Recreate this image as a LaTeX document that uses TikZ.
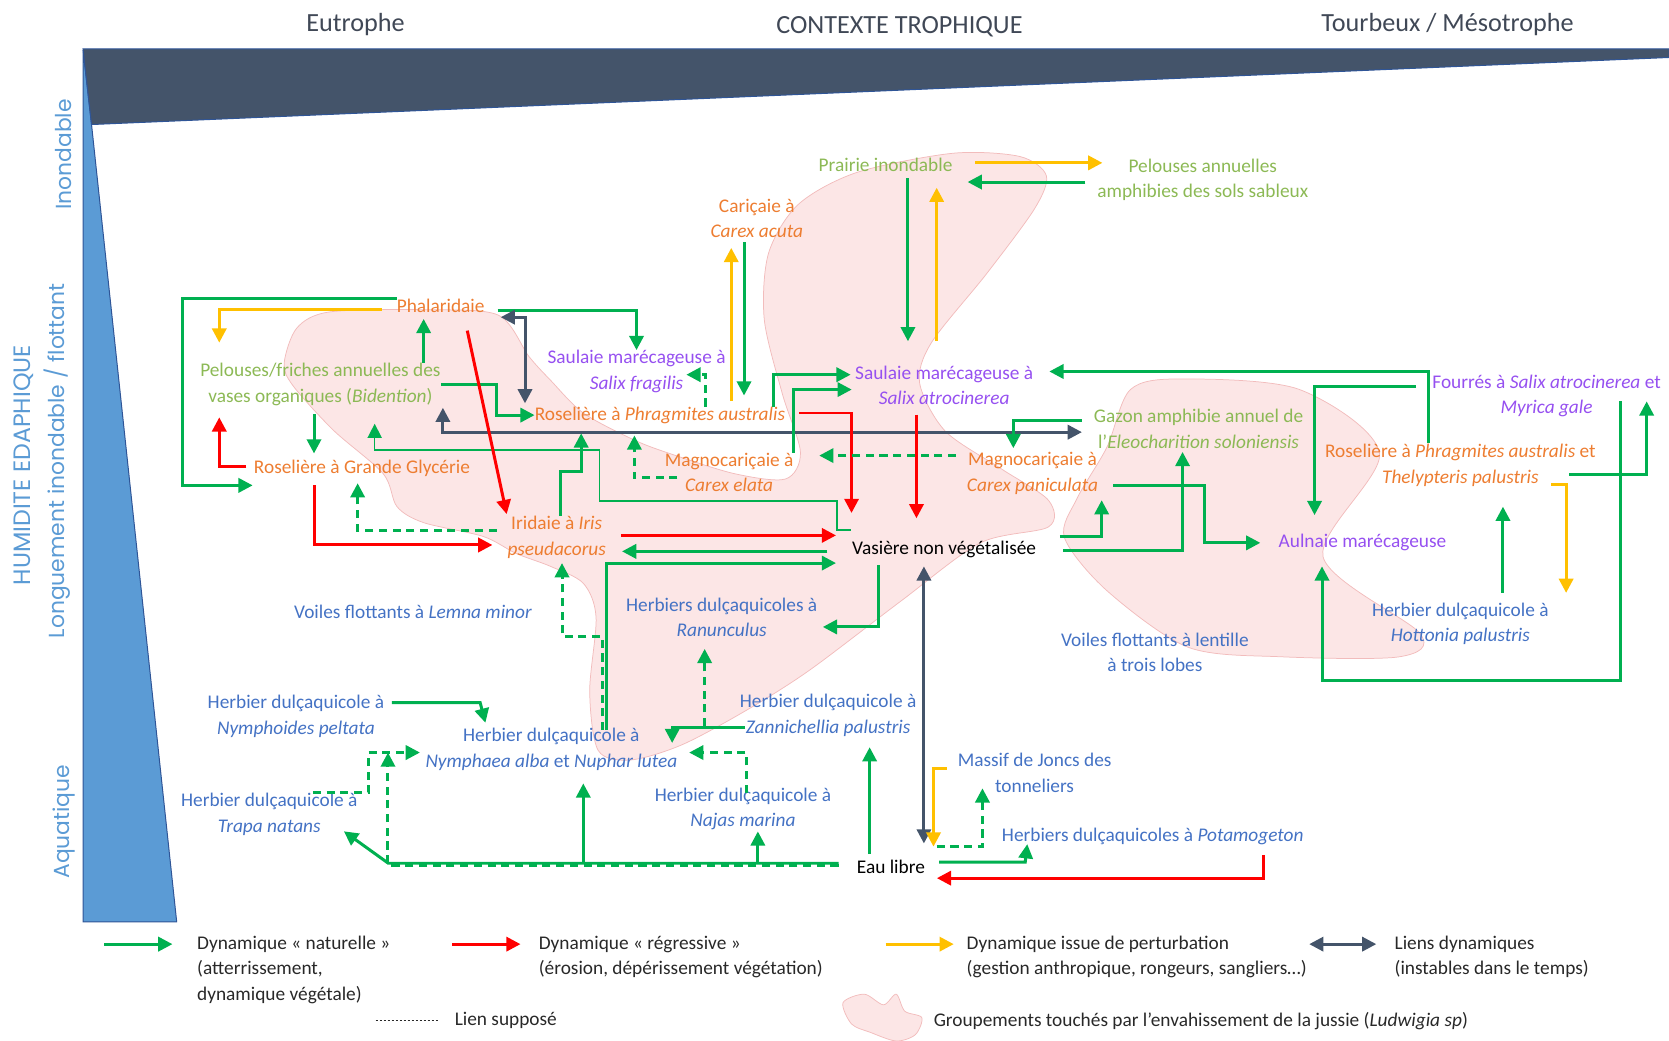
\documentclass[tikz,border=0pt]{standalone}
\usepackage{fontspec}
\setmainfont{Carlito}
\newfontfamily\axefont{Poppins}
\usetikzlibrary{arrows.meta}
\definecolor{vert}{RGB}{0,176,80}
\definecolor{rouge}{RGB}{255,0,0}
\definecolor{jaune}{RGB}{255,192,0}
\definecolor{marine}{RGB}{68,84,106}
\definecolor{tvert}{RGB}{140,185,85}
\definecolor{torange}{RGB}{237,125,49}
\definecolor{tviolet}{RGB}{150,80,240}
\definecolor{tbleu}{RGB}{68,114,196}
\definecolor{axe}{RGB}{91,155,213}
\definecolor{axebord}{RGB}{47,85,151}
\definecolor{titre}{RGB}{64,72,86}
\definecolor{legtxt}{RGB}{40,40,40}
\definecolor{jussie}{RGB}{252,230,230}
\definecolor{jussiebord}{RGB}{242,188,188}

\begin{document}
\begin{tikzpicture}[
  x=0.03cm, y=-0.03cm,
  grp/.style={align=center, inner sep=0pt, font=\fontsize{15.5}{20.5}\selectfont},
  gv/.style={grp, text=tvert},
  go/.style={grp, text=torange},
  gp/.style={grp, text=tviolet},
  gb/.style={grp, text=tbleu},
  gn/.style={grp, text=black},
  titre/.style={inner sep=0pt, text=titre, font=\fontsize{21}{25}\selectfont},
  lay/.style={inner sep=0pt, rotate=90, text=axe, font=\axefont\fontsize{17.5}{20}\selectfont},
  leg/.style={grp, align=left, anchor=north west, text=legtxt},
  jus/.style={fill=jussie, draw=jussiebord, line width=0.6pt},
  ar/.style={draw=vert, line width=2.4pt, -{Triangle[length=0.4cm,width=0.4cm]}},
  arf/.style={ar, line width=1.2pt},
  dar/.style={ar, dash pattern=on 6.5pt off 4.5pt},
  rar/.style={ar, draw=rouge},
  yar/.style={ar, draw=jaune},
  lar/.style={ar, draw=marine, {Triangle[length=0.4cm,width=0.4cm]}-{Triangle[length=0.4cm,width=0.4cm]}},
]
\useasboundingbox (0,0) rectangle (1568,978);

% groupements touches par la jussie
\filldraw[jus] plot[smooth cycle, tension=0.5] coordinates {
  (267,341) (279,308) (310,293) (400,291) (468,296) (497,335) (517,357)
  (548,388) (595,413) (629,426) (690,445) (738,450) (752,425) (735,370)
  (718,300) (722,238) (750,192) (805,162) (895,144) (958,147) (983,165)
  (972,196) (927,257) (875,322) (864,360) (888,405) (940,440) (985,470)
  (985,495) (921,510) (846,565) (760,630) (700,668) (640,700) (592,714)
  (562,705) (554,650) (560,580) (548,548) (517,532) (485,520) (454,504)
  (398,491) (373,476) (360,445) (313,404) (275,362)};
\filldraw[jus] plot[smooth cycle, tension=0.5] coordinates {
  (1000,505) (1012,468) (1040,420) (1062,366) (1110,356) (1221,366)
  (1296,426) (1243,523) (1334,595) (1315,617) (1203,617) (1116,608)
  (1040,555)};

% axes
\filldraw[draw=axebord, fill=axe, line width=0.8pt]
  (78,47) -- (86,117) -- (166,866) -- (78,866) -- cycle;
\filldraw[draw=axebord, fill=marine, line width=0.8pt]
  (78,46) -- (1568,46) -- (1568,54) -- (86,117) -- cycle;

\node[titre] (eutro) at (334,23) {Eutrophe};
\node[titre] (ctx)   at (845,25) {CONTEXTE TROPHIQUE};
\node[titre] (tourb) at (1360,23) {Tourbeux / Mésotrophe};

\node[lay] (inond)  at (60,145) {Inondable};
\node[lay] (longue) at (54,433) {Longuement inondable / flottant};
\node[lay, font=\axefont\fontsize{19}{22}\selectfont] (humid) at (22,437) {HUMIDITE EDAPHIQUE};
\node[lay] (aqua)   at (60,772) {Aquatique};

% groupements
\node[gv] (prairie)  at (832,155)  {Prairie inondable};
\node[gv] (pelsab)   at (1130,169) {Pelouses annuelles\\amphibies des sols sableux};
\node[go] (carac)    at (711,205)  {Cariçaie à\\\textit{Carex acuta}};
\node[go] (phal)     at (414,287)  {Phalaridaie};
\node[gv] (pelvas)   at (301,361)  {Pelouses/friches annuelles des\\vases organiques (\textit{Bidention})};
\node[gp] (salfrag)  at (598,349)  {Saulaie marécageuse à\\\textit{Salix fragilis}};
\node[go] (phrag)    at (620,390)  {Roselière à \textit{Phragmites australis}};
\node[gp] (salatro)  at (887,362)  {Saulaie marécageuse à\\\textit{Salix atrocinerea}};
\node[gp] (fourres)  at (1453,372) {Fourrés à \textit{Salix atrocinerea} et\\\textit{Myrica gale}};
\node[gv] (gazon)    at (1126,403) {Gazon amphibie annuel de\\l’\textit{Eleocharition soloniensis}};
\node[go] (glyc)     at (340,440)  {Roselière à Grande Glycérie};
\node[go] (elata)    at (685,444)  {Magnocariçaie à\\\textit{Carex elata}};
\node[go] (panic)    at (970,445)  {Magnocariçaie à\\\textit{Carex paniculata}};
\node[go] (thely)    at (1372,437) {Roselière à \textit{Phragmites australis} et\\\textit{Thelypteris palustris}};
\node[go] (iris)     at (523,505)  {Iridaie à \textit{Iris}\\\textit{pseudacorus}};
\node[gn] (vasiere)  at (887,516)  {Vasière non végétalisée};
\node[gp] (aulnaie)  at (1280,510) {Aulnaie marécageuse};
\node[gb] (lemna)    at (388,575)  {Voiles flottants à \textit{Lemna minor}};
\node[gb] (ranunc)   at (678,580)  {Herbiers dulçaquicoles à\\\textit{Ranunculus}};
\node[gb] (lentille) at (1085,613) {Voiles flottants à lentille\\à trois lobes};
\node[gb] (hotton)   at (1372,586) {Herbier dulçaquicole à\\\textit{Hottonia palustris}};
\node[gb] (nymphoi)  at (278,673)  {Herbier dulçaquicole à\\\textit{Nymphoides peltata}};
\node[gb] (zanni)    at (778,672)  {Herbier dulçaquicole à\\\textit{Zannichellia palustris}};
\node[gb] (nymphaea) at (518,704)  {Herbier dulçaquicole à\\\textit{Nymphaea alba} et \textit{Nuphar lutea}};
\node[gb] (joncs)    at (972,726)  {Massif de Joncs des\\tonneliers};
\node[gb] (trapa)    at (253,765)  {Herbier dulçaquicole à\\\textit{Trapa natans}};
\node[gb] (najas)    at (698,760)  {Herbier dulçaquicole à\\\textit{Najas marina}};
\node[gb] (potam)    at (1083,786) {Herbiers dulçaquicoles à \textit{Potamogeton}};
\node[gn] (eau)      at (837,814)  {Eau libre};

% dynamiques, partie gauche
\draw[yar] ([shift={(-14,4)}]phal.west) -| ([shift={(-95,-19)}]pelvas.north);
\draw[ar] (phal.north west) -- ++(-201,0) |- ([shift={(-1,8)}]glyc.south west);
\draw[ar] ([shift={(97,0)}]pelvas.north) -- ([shift={(-16,6)}]phal.south);
\draw[ar] ([shift={(12,5)}]phal.east) -| (salfrag.north);
\draw[lar] ([shift={(15,11)}]phal.east) -| ([shift={(-9,-3)}]phrag.north west);
\draw[ar] (pelvas.east) -- ++(52,0) |- (phrag.west);
\draw[ar] ([shift={(-6,8)}]pelvas.south) -- ([shift={(-45,-6)}]glyc.north);
\draw[lar] ([shift={(2,2)}]pelvas.south east) |- ([shift={(-11,3)}]gazon.west);
\draw[arf] ([shift={(-1,-10)}]vasiere.north west) -- ++(-13,0) -- ++(0,-27)
  -- ++(-223,0) -- ++(0,-48) -| ([shift={(51,17)}]pelvas.south);
\draw[rar] ([shift={(-7,-2)}]glyc.west) -| ([shift={(-95,11)}]pelvas.south);
\draw[rar] ([shift={(-45,8)}]glyc.south) |- ([shift={(-14,7)}]iris.west);
\draw[dar] ([shift={(-10,-7)}]iris.west) -| ([shift={(-4,6)}]glyc.south);
\draw[rar] ([shift={(25,17)}]phal.south) -- ([shift={(-47,-2)}]iris.north);
\draw[ar] ([shift={(4,0)}]iris.north) -- ++(0,-42) -| ([shift={(-74,9)}]phrag.south);
\draw[dar] ([shift={(12,5)}]elata.west) -| ([shift={(-24,11)}]phrag.south);
\draw[dar] ([shift={(43,0)}]phrag.north) |- ([shift={(-37,3)}]salfrag.east);

% partie centrale
\draw[ar] ([shift={(-12,4)}]carac.south) -- ++(0,144);
\draw[yar] ([shift={(67,-5)}]phrag.north) -- ++(0,-144);
\draw[ar] ([shift={(-11,0)}]phrag.north east) |- ([shift={(-4,-10)}]salatro.west);
\draw[ar] (elata.north east) |- ([shift={(-3,4)}]salatro.west);
\draw[rar] ([shift={(13,-2)}]phrag.east) -| ([shift={(-87,-26)}]vasiere.north);
\draw[rar] ([shift={(-26,9)}]salatro.south) -- ([shift={(-26,-21)}]vasiere.north);
\draw[ar] ([shift={(21,6)}]prairie.south) -- ++(0,153);
\draw[yar] ([shift={(-7,-23)}]salatro.north) -- ++(0,-144);
\draw[yar] ([shift={(21,-2)}]prairie.east) -- ([shift={(5,-16)}]pelsab.west);
\draw[ar] ([shift={(-11,2)}]pelsab.west) -- ([shift={(14,16)}]prairie.east);

% partie droite
\draw[ar] ([shift={(-30,-1)}]thely.north) |- ([shift={(15,-13)}]salatro.east);
\draw[ar] ([shift={(-15,-9)}]fourres.west) -| ([shift={(-45,-18)}]aulnaie.north);
\draw[ar] ([shift={(-25,9)}]thely.east) -| ([shift={(94,-15)}]fourres.south);
\draw[yar] ([shift={(-42,18)}]thely.east) -- ++(14,0) -- ++(0,102);
\draw[ar] ([shift={(40,-9)}]hotton.north) -- ++(0,-81);
\draw[ar] ([shift={(69,-15)}]fourres.south) -- ++(0,262) -| ([shift={(-38,14)}]aulnaie.south);
\draw[ar] ([shift={(-11,-8)}]gazon.west) -| ([shift={(-18,-4)}]panic.north);
\draw[dar] ([shift={(-10,-17)}]panic.west) -- ([shift={(24,-16)}]elata.east);
\draw[ar] ([shift={(22,-12)}]vasiere.east) -| ([shift={(65,5)}]panic.south);
\draw[ar] ([shift={(25,1)}]vasiere.east) -| ([shift={(-15,3)}]gazon.south);
\draw[ar] ([shift={(14,11)}]panic.east) -- ++(86,0) |- ([shift={(-17,0)}]aulnaie.west);

% vasiere et herbiers
\draw[rar] ([shift={(14,-2)}]iris.east) -- ([shift={(-15,-13)}]vasiere.west);
\draw[ar] ([shift={(-23,2)}]vasiere.west) -- ([shift={(15,13)}]iris.east);
\draw[ar] ([shift={(52,2)}]nymphaea.north) |- ([shift={(-15,13)}]vasiere.west);
\draw[dar] ([shift={(48,2)}]nymphaea.north) -- ++(0,-88) -| ([shift={(5,4)}]iris.south);
\draw[ar] ([shift={(-62,7)}]vasiere.south) |- ([shift={(5,9)}]ranunc.east);
\draw[lar] ([shift={(-19,8)}]vasiere.south) -- ([shift={(31,-15)}]eau.north);
\draw[ar] ([shift={(-20,-5)}]eau.north) -- ([shift={(39,10)}]zanni.south);
\draw[ar] ([shift={(-17,-3)}]eau.west) coordinate (bus) -- ++(-423,0)
  -- ([shift={(-13,-4)}]trapa.south east);
\path ([shift={(30,12)}]nymphaea.south) coordinate (nyb)
      ([shift={(14,1)}]najas.south) coordinate (najb);
\draw[ar] (nyb |- bus) -- (nyb);
\draw[ar] (najb |- bus) -- (najb);
\draw[dar] ([shift={(0,2)}]bus) -| ([shift={(-35,3)}]nymphaea.west);
\draw[dar] ([shift={(41,0)}]trapa.north) -- ++(52,0) |- ([shift={(-5,3)}]nymphaea.west);
\draw[ar] ([shift={(7,-13)}]nymphoi.east) -- ++(83,0) -- ([shift={(-62,-5)}]nymphaea.north);
\draw[ar] ([shift={(5,11)}]zanni.west) -| ([shift={(-5,-6)}]nymphaea.east);
\draw[dar] ([shift={(5,11)}]zanni.west) -| ([shift={(-16,11)}]ranunc.south);
\draw[dar] ([shift={(3,5)}]najas.north) |- ([shift={(11,3)}]nymphaea.east);
\draw[ar] ([shift={(13,-4)}]eau.east) -- ++(81,0) -- ([shift={(24,-1)}]potam.south west);
\draw[yar] ([shift={(-10,-4)}]joncs.west) -| ([shift={(40,-12)}]eau.north);
\draw[dar] ([shift={(43,-12)}]eau.north) -| ([shift={(-49,-4)}]joncs.south);
\draw[rar] ([shift={(104,9)}]potam.south) |- ([shift={(11,11)}]eau.east);

% legende
\node[leg] (lnat)  at (185,879)  {Dynamique «~naturelle~»\\(atterrissement,\\dynamique végétale)};
\node[leg] (lreg)  at (506,879)  {Dynamique «~régressive~»\\(érosion, dépérissement végétation)};
\node[leg] (lpert) at (908,879)  {Dynamique issue de perturbation\\(gestion anthropique, rongeurs, sangliers…)};
\node[leg] (llien) at (1310,879) {Liens dynamiques\\(instables dans le temps)};
\node[leg, anchor=west] (lsupp) at (427,959) {Lien supposé};
\node[leg, anchor=west] (ljus)  at (877,959) {Groupements touchés par l’envahissement de la jussie (\textit{Ludwigia sp})};

\draw[ar]  ([shift={(-87,8)}]lnat.north west) -- ++(64,0);
\draw[rar] ([shift={(-81,8)}]lreg.north west) -- ++(64,0);
\draw[yar] ([shift={(-76,8)}]lpert.north west) -- ++(64,0);
\draw[lar] ([shift={(-80,8)}]llien.north west) -- ++(63,0);
\draw[legtxt, line width=1pt, dash pattern=on 1.6pt off 1.6pt] ([shift={(-74,0)}]lsupp.west) -- ++(59,0);
\filldraw[jus] plot[smooth cycle, tension=0.5] coordinates {
  (792,942) (812,934) (830,944) (842,934) (850,950) (866,956)
  (860,972) (842,978) (818,970) (800,962)};

\end{tikzpicture}
\end{document}
